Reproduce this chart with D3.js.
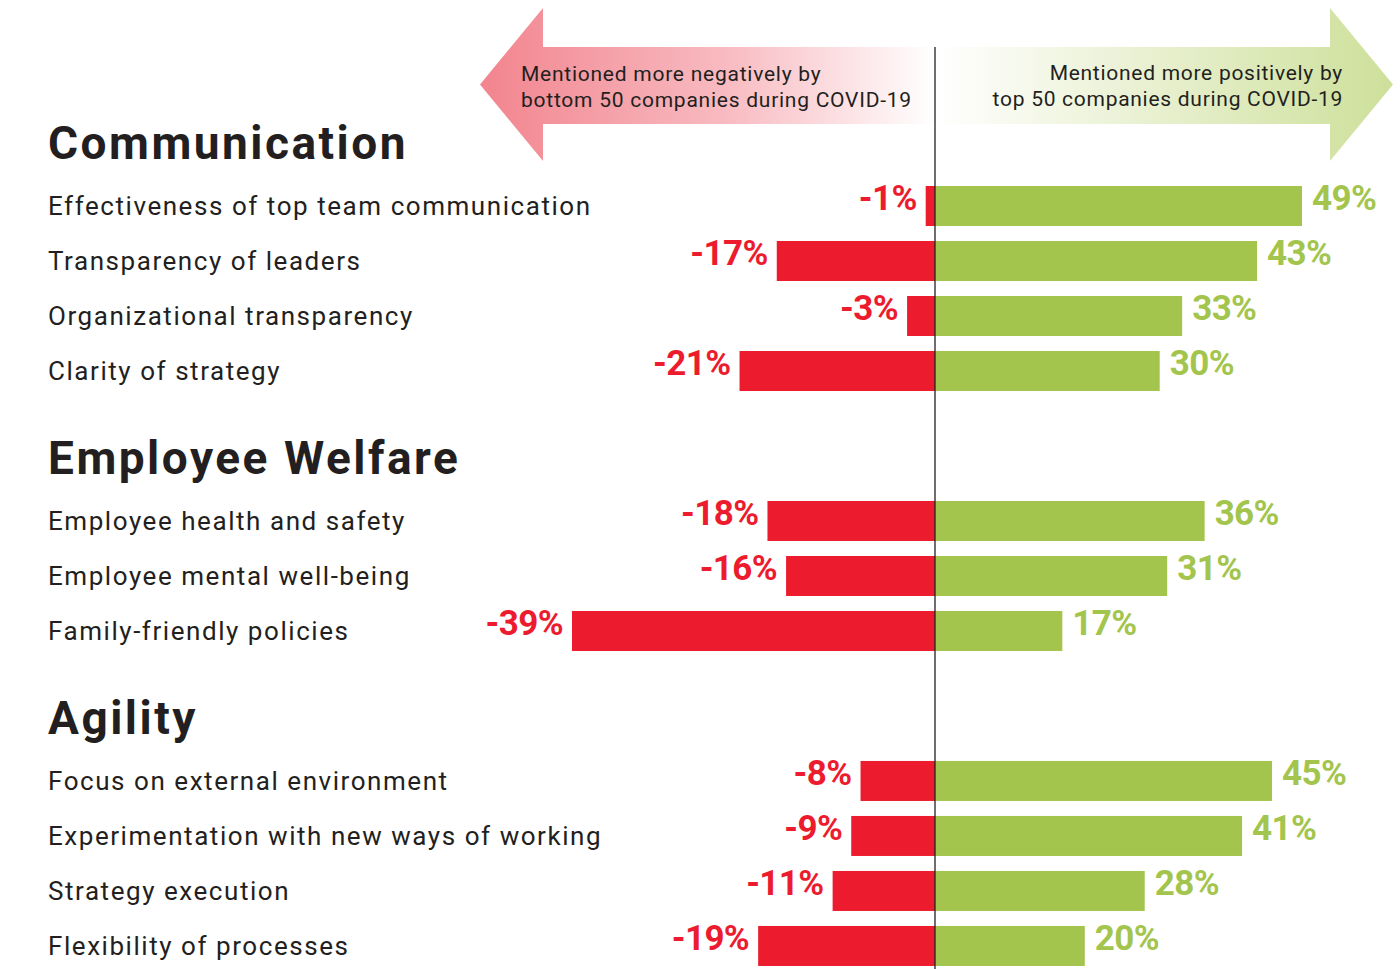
<!DOCTYPE html>
<html>
<head>
<meta charset="utf-8">
<script src="https://cdn.jsdelivr.net/npm/d3@7"></script>
<style>
  html, body { margin: 0; padding: 0; background: #fff; }
  svg { display: block; }
</style>
</head>
<body>
<script>
const sections = ["Communication", "Employee Welfare", "Agility"];
const categories = [
  "Effectiveness of top team communication",
  "Transparency of leaders",
  "Organizational transparency",
  "Clarity of strategy",
  "Employee health and safety",
  "Employee mental well-being",
  "Family-friendly policies",
  "Focus on external environment",
  "Experimentation with new ways of working",
  "Strategy execution",
  "Flexibility of processes"
];
const categorySection = [0, 0, 0, 0, 1, 1, 1, 2, 2, 2, 2];
const negValues = [-1, -17, -3, -21, -18, -16, -39, -8, -9, -11, -19];
const posValues = [49, 43, 33, 30, 36, 31, 17, 45, 41, 28, 20];
const legendNeg = ["Mentioned more negatively by", "bottom 50 companies during COVID-19"];
const legendPos = ["Mentioned more positively by", "top 50 companies during COVID-19"];

const W = 1400, H = 969;
const RED = "#ec1c2e", GREEN = "#a3c54d", INK = "#231f20";
const FONT = "Roboto, 'Open Sans', sans-serif";

const svg = d3.select("body").append("svg").attr("width", W).attr("height", H);

const x0 = 935;
const xNeg = d3.scaleLinear().domain([0, -39]).range([x0, 572]);
const xPos = d3.scaleLinear().domain([0, 49]).range([x0, 1302]);

// slot positions: each section adds a header gap
const sectionGap = 1.727;
const slots = categories.map((c, i) => i + categorySection[i] * sectionGap);
const y = d3.scaleLinear().domain([0, 1]).range([186, 241]);
const barH = 40;

const rows = categories.map((c, i) => ({
  cat: c, neg: negValues[i], pos: posValues[i], sec: categorySection[i], slot: slots[i]
}));

// defs: gradients
const defs = svg.append("defs");
const gNeg = defs.append("linearGradient").attr("id", "gNeg")
  .attr("gradientUnits", "userSpaceOnUse").attr("x1", 480).attr("x2", 935).attr("y1", 0).attr("y2", 0);
gNeg.append("stop").attr("offset", 0).attr("stop-color", "#f2848e");
gNeg.append("stop").attr("offset", 0.55).attr("stop-color", "#f8bcc2");
gNeg.append("stop").attr("offset", 1).attr("stop-color", "#ffffff");
const gPos = defs.append("linearGradient").attr("id", "gPos")
  .attr("gradientUnits", "userSpaceOnUse").attr("x1", 935).attr("x2", 1393).attr("y1", 0).attr("y2", 0);
gPos.append("stop").attr("offset", 0).attr("stop-color", "#ffffff");
gPos.append("stop").attr("offset", 0.5).attr("stop-color", "#e7efcd");
gPos.append("stop").attr("offset", 1).attr("stop-color", "#cde09a");

// arrows
svg.append("path")
  .attr("d", "M480,84.5 L543,8 L543,47 L935,47 L935,124 L543,124 L543,161 Z")
  .attr("fill", "url(#gNeg)");
svg.append("path")
  .attr("d", "M1393,84.5 L1330,8 L1330,47 L935,47 L935,124 L1330,124 L1330,161 Z")
  .attr("fill", "url(#gPos)");

svg.append("g").selectAll("text").data(legendNeg).join("text")
  .attr("x", 521).attr("y", (d, i) => 81 + i * 26)
  .attr("font-family", FONT).attr("font-size", 21).attr("fill", INK)
  .attr("letter-spacing", 0.75)
  .text(d => d);
svg.append("g").selectAll("text").data(legendPos).join("text")
  .attr("x", 1343).attr("y", (d, i) => 80 + i * 26)
  .attr("text-anchor", "end")
  .attr("font-family", FONT).attr("font-size", 21).attr("fill", INK)
  .attr("letter-spacing", 0.72)
  .text(d => d);

// section headers
const firstSlot = sections.map((s, k) => d3.min(rows.filter(r => r.sec === k), r => r.slot));
svg.append("g").selectAll("text").data(sections).join("text")
  .attr("x", 48).attr("y", (d, k) => y(firstSlot[k]) - 27)
  .attr("font-family", FONT).attr("font-weight", 700).attr("font-size", 46)
  .attr("letter-spacing", 2.5).attr("fill", INK)
  .text(d => d);

// category labels
svg.append("g").selectAll("text").data(rows).join("text")
  .attr("x", 48).attr("y", d => y(d.slot) + barH / 2 + 9)
  .attr("font-family", FONT).attr("font-size", 26).attr("fill", INK)
  .attr("letter-spacing", 1.55)
  .text(d => d.cat);

// bars
svg.append("g").selectAll("rect").data(rows).join("rect")
  .attr("x", d => xNeg(d.neg)).attr("y", d => y(d.slot))
  .attr("width", d => x0 - xNeg(d.neg)).attr("height", barH)
  .attr("fill", RED);
svg.append("g").selectAll("rect").data(rows).join("rect")
  .attr("x", x0).attr("y", d => y(d.slot))
  .attr("width", d => xPos(d.pos) - x0).attr("height", barH)
  .attr("fill", GREEN);

// value labels
svg.append("g").selectAll("text").data(rows).join("text")
  .attr("x", d => xNeg(d.neg) - 9).attr("y", d => y(d.slot) + 24)
  .attr("text-anchor", "end")
  .attr("font-family", FONT).attr("font-weight", 700).attr("font-size", 35)
  .attr("letter-spacing", -0.6).attr("fill", RED)
  .text(d => d.neg + "%");
svg.append("g").selectAll("text").data(rows).join("text")
  .attr("x", d => xPos(d.pos) + 10).attr("y", d => y(d.slot) + 24)
  .attr("font-family", FONT).attr("font-weight", 700).attr("font-size", 35)
  .attr("letter-spacing", -0.6).attr("fill", GREEN)
  .text(d => d.pos + "%");

// center line
svg.append("line")
  .attr("x1", x0).attr("x2", x0).attr("y1", 47).attr("y2", H)
  .attr("stroke", INK).attr("stroke-width", 1.3);
</script>
</body>
</html>
